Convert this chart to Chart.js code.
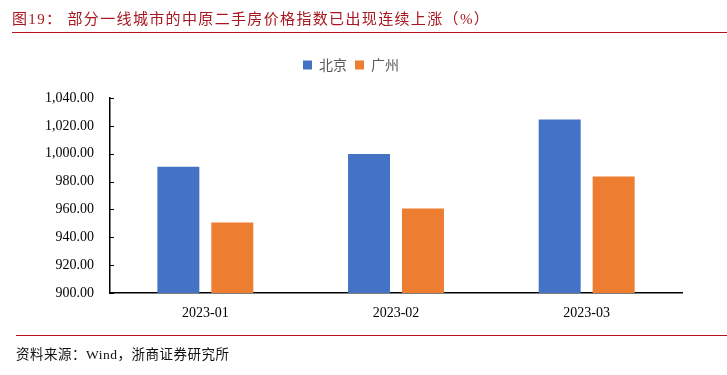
<!DOCTYPE html>
<html>
<head>
<meta charset="utf-8">
<script src="https://cdn.jsdelivr.net/npm/chart.js@4.4.0/dist/chart.umd.min.js"></script>
<style>
    body { margin: 0; background: #fff; }
    #wrap { position: relative; width: 727px; height: 375px; overflow: hidden; }
    #titulo {
        position: absolute; left: 12px; top: 7px;
        font: 15px "Liberation Serif", "Noto Sans CJK SC", serif;
        color: #a8161f; letter-spacing: 1.35px; white-space: nowrap;
    }
    #linha1 { position: absolute; left: 12px; right: 0; top: 32px; height: 0; border-top: 1.5px solid #b4121c; }
    #linha2 { position: absolute; left: 16px; right: 0; top: 335px; height: 0; border-top: 1.5px solid #b4121c; }
    #fonte {
        position: absolute; left: 16px; top: 343px;
        font: 13.5px "Liberation Serif", "Noto Sans CJK SC", serif;
        color: #111; letter-spacing: 0.5px; white-space: nowrap;
    }
    #myChart01 { position: absolute; left: 0; top: 0; }
</style>
</head>
<body>
<div id="wrap">
    <canvas id="myChart01" width="727" height="375"></canvas>
    <div id="titulo">图19：&nbsp;部分一线城市的中原二手房价格指数已出现连续上涨（%）</div>
    <div id="linha1"></div>
    <div id="linha2"></div>
    <div id="fonte">资料来源：Wind，浙商证券研究所</div>
</div>
<script>
const lista_meses = ['2023-01', '2023-02', '2023-03'];
const lista_beijing = [990.7, 999.8, 1024.5];
const lista_guangzhou = [950.7, 960.7, 983.6];
const eixo_min = 900;
const eixo_max = 1040;
const eixo_passo = 20;

// espaço extra abaixo da legenda
const legendaEspaco = {
    id: 'legendaEspaco',
    beforeInit(chart) {
        const fitOriginal = chart.legend.fit;
        chart.legend.fit = function () {
            fitOriginal.bind(chart.legend)();
            this.height += 16;
        };
    }
};

// marcas dos ticks para dentro do gráfico
const marcasDentro = {
    id: 'marcasDentro',
    afterDraw(chart) {
        const ctx = chart.ctx;
        const y = chart.scales.y;
        ctx.save();
        ctx.strokeStyle = '#000';
        ctx.lineWidth = 1;
        y.ticks.forEach(function (t) {
            const py = Math.round(y.getPixelForValue(t.value)) + 0.5;
            ctx.beginPath();
            ctx.moveTo(y.right, py);
            ctx.lineTo(y.right + 4, py);
            ctx.stroke();
        });
        ctx.restore();
    }
};

const grafico1 = document.getElementById('myChart01');

new Chart(grafico1, {
    type: 'bar',
    data: {
        labels: lista_meses,
        datasets: [{
            label: '北京',
            backgroundColor: '#4472C4',
            data: lista_beijing,
            categoryPercentage: 0.566,
            barPercentage: 0.778
        },
        {
            label: '广州',
            backgroundColor: '#ED7D31',
            data: lista_guangzhou,
            categoryPercentage: 0.566,
            barPercentage: 0.778
        }]
    },
    options: {
        responsive: false,
        animation: false,
        layout: {
            padding: { top: 50, left: 20, right: 45, bottom: 52 }
        },
        plugins: {
            tooltip: { enabled: false },
            legend: {
                position: 'top',
                labels: {
                    boxWidth: 9,
                    boxHeight: 9,
                    padding: 8,
                    color: '#595959',
                    font: { family: '"Noto Sans CJK SC", sans-serif', size: 14 }
                }
            }
        },
        scales: {
            x: {
                grid: { display: false },
                border: { display: true, color: '#000', width: 1.5 },
                ticks: {
                    color: '#000',
                    padding: 4,
                    font: { family: '"Liberation Serif", serif', size: 14 }
                },
                afterFit(scale) { scale.height = 30; }
            },
            y: {
                min: eixo_min,
                max: eixo_max,
                grid: { display: false, drawTicks: false },
                border: { display: true, color: '#000', width: 1.5 },
                ticks: {
                    stepSize: eixo_passo,
                    color: '#000',
                    padding: 16,
                    font: { family: '"Liberation Serif", serif', size: 14 },
                    callback: function (v) {
                        return v.toLocaleString('en-US', { minimumFractionDigits: 2, maximumFractionDigits: 2 });
                    }
                },
                afterFit(scale) { scale.width = 90; }
            }
        }
    },
    plugins: [legendaEspaco, marcasDentro]
});
</script>
</body>
</html>
